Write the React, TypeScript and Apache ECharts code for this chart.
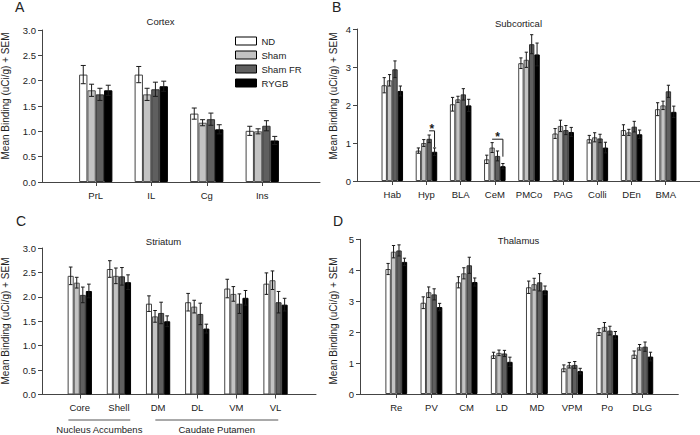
import { useEffect, useRef } from 'react';
import * as echarts from 'echarts';

// ---------- data ----------
const groupNames = ['ND', 'Sham', 'Sham FR', 'RYGB'];

const cortexCats = ['PrL', 'IL', 'Cg', 'Ins'];
const cortexND = [2.12, 2.12, 1.35, 1.01];
const cortexSham = [1.81, 1.73, 1.17, 1.0];
const cortexShamFR = [1.73, 1.83, 1.24, 1.11];
const cortexRYGB = [1.81, 1.89, 1.04, 0.82];
const cortexNDErr = [0.18, 0.16, 0.11, 0.09];
const cortexShamErr = [0.12, 0.12, 0.06, 0.05];
const cortexShamFRErr = [0.12, 0.14, 0.12, 0.1];
const cortexRYGBErr = [0.1, 0.1, 0.09, 0.08];

const subCats = ['Hab', 'Hyp', 'BLA', 'CeM', 'PMCo', 'PAG', 'Colli', 'DEn', 'BMA'];
const subND = [2.52, 0.8, 2.02, 0.57, 3.1, 1.25, 1.1, 1.34, 1.89];
const subSham = [2.65, 1.0, 2.15, 0.88, 3.19, 1.45, 1.15, 1.28, 1.99];
const subShamFR = [2.94, 1.11, 2.28, 0.66, 3.6, 1.34, 1.12, 1.43, 2.36];
const subRYGB = [2.37, 0.77, 1.99, 0.39, 3.33, 1.29, 0.88, 1.23, 1.82];
const subNDErr = [0.2, 0.07, 0.18, 0.11, 0.14, 0.13, 0.1, 0.14, 0.17];
const subShamErr = [0.15, 0.09, 0.08, 0.13, 0.2, 0.15, 0.12, 0.08, 0.11];
const subShamFRErr = [0.22, 0.1, 0.15, 0.13, 0.25, 0.12, 0.11, 0.14, 0.16];
const subRYGBErr = [0.13, 0.1, 0.16, 0.07, 0.3, 0.12, 0.14, 0.11, 0.15];

// significance brackets (Subcortical): category, from group, to group, bracket top, right leg bottom
const sigCats = [1, 3];
const sigFrom = [2, 1];
const sigTo = [3, 3];
const sigTop = [1.32, 1.1];
const sigBottom = [0.89, 0.64];

const striCats = ['Core', 'Shell', 'DM', 'DL', 'VM', 'VL'];
const striND = [2.43, 2.57, 1.86, 1.89, 2.17, 2.27];
const striSham = [2.29, 2.43, 1.6, 1.8, 2.06, 2.34];
const striShamFR = [2.04, 2.42, 1.67, 1.65, 1.86, 1.89];
const striRYGB = [2.12, 2.3, 1.5, 1.35, 1.98, 1.84];
const striNDErr = [0.18, 0.17, 0.16, 0.18, 0.19, 0.22];
const striShamErr = [0.11, 0.16, 0.12, 0.13, 0.15, 0.19];
const striShamFRErr = [0.16, 0.18, 0.22, 0.22, 0.2, 0.22];
const striRYGBErr = [0.14, 0.15, 0.11, 0.09, 0.15, 0.13];
const striGroupLabels = ['Nucleus Accumbens', 'Caudate Putamen'];
const striGroupStart = [0, 2];
const striGroupEnd = [1, 5];

const thalCats = ['Re', 'PV', 'CM', 'LD', 'MD', 'VPM', 'Po', 'DLG'];
const thalND = [4.04, 2.95, 3.61, 1.25, 3.45, 0.83, 2.0, 1.27];
const thalSham = [4.6, 3.29, 3.9, 1.33, 3.55, 0.93, 2.17, 1.51];
const thalShamFR = [4.64, 3.22, 4.16, 1.31, 3.61, 0.94, 2.05, 1.53];
const thalRYGB = [4.27, 2.81, 3.62, 1.04, 3.35, 0.74, 1.9, 1.21];
const thalNDErr = [0.18, 0.19, 0.18, 0.1, 0.2, 0.11, 0.11, 0.12];
const thalShamErr = [0.2, 0.17, 0.18, 0.09, 0.19, 0.09, 0.14, 0.09];
const thalShamFRErr = [0.18, 0.18, 0.26, 0.1, 0.28, 0.11, 0.14, 0.15];
const thalRYGBErr = [0.12, 0.12, 0.13, 0.15, 0.14, 0.09, 0.12, 0.14];

// ---------- styling / layout ----------
const FONT = '"Liberation Sans", Arial, Helvetica, sans-serif';
const TXT = '#222';
const AX = '#444';
const fills = ['#ffffff', '#c3c3c3', '#5f5f5f', '#000000'];
const borders = ['#444444', '#555555', '#333333', '#000000'];
const YNAME = 'Mean Binding (uCi/g) + SEM';

type Panel = {
  cats: string[];
  vals: number[][];
  errs: number[][];
  yMax: number;
  yInterval: number;
  decimals: number;
  frame: { left: number; top: number; width: number; height: number };
  bars: { left: number; width: number };
  gap: number;
};

const panels: Panel[] = [
  {
    cats: cortexCats,
    vals: [cortexND, cortexSham, cortexShamFR, cortexRYGB],
    errs: [cortexNDErr, cortexShamErr, cortexShamFRErr, cortexRYGBErr],
    yMax: 3, yInterval: 0.5, decimals: 1,
    frame: { left: 42, top: 30, width: 278, height: 152 },
    bars: { left: 68, width: 222 },
    gap: 0.4,
  },
  {
    cats: subCats,
    vals: [subND, subSham, subShamFR, subRYGB],
    errs: [subNDErr, subShamErr, subShamFRErr, subRYGBErr],
    yMax: 4, yInterval: 1, decimals: 0,
    frame: { left: 357, top: 29, width: 343, height: 152 },
    bars: { left: 375.2, width: 307.6 },
    gap: 0.37,
  },
  {
    cats: striCats,
    vals: [striND, striSham, striShamFR, striRYGB],
    errs: [striNDErr, striShamErr, striShamFRErr, striRYGBErr],
    yMax: 3, yInterval: 0.5, decimals: 1,
    frame: { left: 42, top: 248, width: 274, height: 146.5 },
    bars: { left: 60.2, width: 234.9 },
    gap: 0.38,
  },
  {
    cats: thalCats,
    vals: [thalND, thalSham, thalShamFR, thalRYGB],
    errs: [thalNDErr, thalShamErr, thalShamFRErr, thalRYGBErr],
    yMax: 5, yInterval: 1, decimals: 0,
    frame: { left: 360, top: 239.3, width: 318.3, height: 154.7 },
    bars: { left: 378.7, width: 281.2 },
    gap: 0.38,
  },
];

function barX(api: any, cat: number, v: number, s: number, gap: number) {
  const c = api.coord([cat, v]);
  const bandW = api.size([1, 0])[0];
  const gw = bandW * (1 - gap);
  const bw = gw / 4;
  return { x: c[0] - gw / 2 + bw * (s + 0.5), y: c[1], bw, bandW };
}

function buildOption() {
  const grid: any[] = [];
  const xAxis: any[] = [];
  const yAxis: any[] = [];
  const series: any[] = [];

  panels.forEach((p, pi) => {
    const fi = pi * 2;
    const bi = pi * 2 + 1;
    grid.push({ left: p.frame.left, top: p.frame.top, width: p.frame.width, height: p.frame.height });
    grid.push({ left: p.bars.left, top: p.frame.top, width: p.bars.width, height: p.frame.height });
    xAxis.push({
      gridIndex: fi, type: 'value', min: 0, max: 1,
      axisLine: { show: true, lineStyle: { color: AX, width: 1 } },
      axisTick: { show: false }, axisLabel: { show: false }, splitLine: { show: false },
    });
    xAxis.push({
      gridIndex: bi, type: 'category', data: p.cats,
      axisLine: { show: false },
      axisTick: { show: true, alignWithLabel: true, length: 4, lineStyle: { color: AX } },
      axisLabel: { color: TXT, fontSize: 9.5, margin: 8, fontFamily: FONT, interval: 0 },
      splitLine: { show: false },
    });
    yAxis.push({
      gridIndex: fi, type: 'value', min: 0, max: p.yMax, interval: p.yInterval,
      axisLine: { show: true, lineStyle: { color: AX, width: 1 } },
      axisTick: { show: true, length: 4, lineStyle: { color: AX } },
      axisLabel: {
        color: TXT, fontSize: 9.5, margin: 6, fontFamily: FONT,
        formatter: (v: number) => v.toFixed(p.decimals),
      },
      splitLine: { show: false },
    });
    yAxis.push({ gridIndex: bi, type: 'value', min: 0, max: p.yMax, show: false });

    groupNames.forEach((name, s) => {
      series.push({
        type: 'bar', name, xAxisIndex: bi, yAxisIndex: bi,
        data: p.vals[s], barGap: '0%', barCategoryGap: Math.round(p.gap * 100) + '%',
        itemStyle: { color: fills[s], borderColor: borders[s], borderWidth: 1 },
      });
    });

    const errData: number[][] = [];
    p.vals.forEach((arr, s) => arr.forEach((v, i) => errData.push([i, v, p.errs[s][i], s])));
    const gap = p.gap;
    series.push({
      type: 'custom', xAxisIndex: bi, yAxisIndex: bi, data: errData, z: 5, silent: true,
      renderItem: (params: any, api: any) => {
        const cat = api.value(0);
        const v = api.value(1);
        const e = api.value(2);
        const s = api.value(3);
        const b = barX(api, cat, v, s, gap);
        const yt = api.coord([cat, v + e])[1];
        const yb = api.coord([cat, v - e])[1];
        const cw = Math.max(3, b.bw * 0.6) / 2;
        const st = { stroke: '#1a1a1a', lineWidth: 1 };
        return {
          type: 'group',
          children: [
            { type: 'line', shape: { x1: b.x, y1: yt, x2: b.x, y2: yb }, style: st },
            { type: 'line', shape: { x1: b.x - cw, y1: yt, x2: b.x + cw, y2: yt }, style: st },
            { type: 'line', shape: { x1: b.x - cw, y1: yb, x2: b.x + cw, y2: yb }, style: st },
          ],
        };
      },
    });

    if (pi === 1) {
      const sigData = sigCats.map((c, k) => [c, sigTop[k], sigFrom[k], sigTo[k], sigBottom[k]]);
      series.push({
        type: 'custom', xAxisIndex: bi, yAxisIndex: bi, data: sigData, z: 6, silent: true,
        renderItem: (params: any, api: any) => {
          const cat = api.value(0);
          const top = api.value(1);
          const from = api.value(2);
          const to = api.value(3);
          const bot = api.value(4);
          const a = barX(api, cat, top, from, gap);
          const b = barX(api, cat, top, to, gap);
          const yBot = api.coord([cat, bot])[1];
          return {
            type: 'group',
            children: [
              {
                type: 'polyline',
                shape: { points: [[a.x, a.y], [b.x, a.y], [b.x, yBot]] },
                style: { stroke: '#1a1a1a', lineWidth: 1, fill: null },
              },
              {
                type: 'text', x: (a.x + b.x) / 2, y: a.y - 2,
                style: {
                  text: '*', fontSize: 12, fontWeight: 'bold', fontFamily: FONT, fill: '#1a1a1a',
                  align: 'center', verticalAlign: 'middle',
                },
              },
            ],
          };
        },
      });
    }

    if (pi === 2) {
      const gData = striGroupLabels.map((_, k) => [striGroupStart[k], 0, striGroupEnd[k], k]);
      const over = [0.29, 0.07];
      series.push({
        type: 'custom', xAxisIndex: bi, yAxisIndex: bi, data: gData, z: 6, silent: true,
        renderItem: (params: any, api: any) => {
          const c0 = api.value(0);
          const c1 = api.value(2);
          const k = api.value(3);
          const p0 = api.coord([c0, 0]);
          const p1 = api.coord([c1, 0]);
          const bandW = api.size([1, 0])[0];
          const x0 = p0[0] - over[k] * bandW;
          const x1 = p1[0] + over[k] * bandW;
          const y = p0[1] + 25.5;
          return {
            type: 'group',
            children: [
              { type: 'line', shape: { x1: x0, y1: y, x2: x1, y2: y }, style: { stroke: '#555', lineWidth: 1 } },
              {
                type: 'text', x: (x0 + x1) / 2, y: y + 4.5,
                style: {
                  text: striGroupLabels[k], fontSize: 9.5, fontFamily: FONT, fill: TXT,
                  align: 'center', verticalAlign: 'top', lineHeight: 10,
                },
              },
            ],
          };
        },
      });
    }
  });

  const t = (text: string, x: number, y: number, size: number, extra: any = {}) => ({
    type: 'text', x, y, silent: true,
    style: { text, fontSize: size, fontFamily: FONT, fill: TXT, align: 'center', verticalAlign: 'middle', ...extra },
  });

  const graphic = [
    t('A', 15, 7, 14, { align: 'left' }),
    t('B', 332, 7, 14, { align: 'left' }),
    t('C', 16, 221, 14, { align: 'left' }),
    t('D', 333, 221, 14, { align: 'left' }),
    t('Cortex', 160.5, 21, 9.5),
    t('Subcortical', 518.5, 23, 9.5),
    t('Striatum', 163.5, 241, 9.5),
    t('Thalamus', 518.5, 240, 9.5),
    { ...t(YNAME, 5, 96, 10), rotation: Math.PI / 2 },
    { ...t(YNAME, 333, 96, 10), rotation: Math.PI / 2 },
    { ...t(YNAME, 5, 321, 10), rotation: Math.PI / 2 },
    { ...t(YNAME, 333, 321, 10), rotation: Math.PI / 2 },
  ];

  return {
    animation: false,
    backgroundColor: '#ffffff',
    textStyle: { fontFamily: FONT },
    grid,
    xAxis,
    yAxis,
    series,
    graphic,
    legend: {
      data: groupNames,
      orient: 'vertical',
      left: 235,
      top: 36,
      itemWidth: 21,
      itemHeight: 8,
      itemGap: 4,
      padding: 0,
      icon: 'rect',
      selectedMode: false,
      itemStyle: { borderColor: '#000', borderWidth: 1 },
      textStyle: { fontSize: 9.5, color: TXT, fontFamily: FONT, lineHeight: 8 },
    },
  };
}

export default function App() {
  const ref = useRef<HTMLDivElement>(null);
  useEffect(() => {
    document.body.style.margin = '0';
    if (!ref.current) return;
    const chart = echarts.init(ref.current, undefined, { renderer: 'svg' });
    chart.setOption(buildOption() as any);
    return () => chart.dispose();
  }, []);
  return <div ref={ref} style={{ width: 700, height: 435, position: 'absolute', left: 0, top: 0 }} />;
}
